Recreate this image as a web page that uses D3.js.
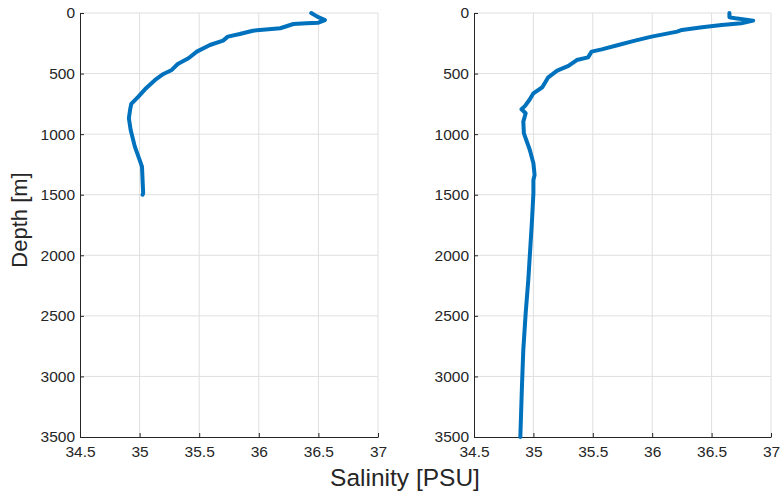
<!DOCTYPE html>
<html>
<head>
<meta charset="utf-8">
<script src="https://cdn.jsdelivr.net/npm/d3@7"></script>
<style>
  html, body { margin: 0; padding: 0; background: #fff; }
  svg { display: block; font-family: "Liberation Sans", Arial, Helvetica, sans-serif; }
</style>
</head>
<body>
<svg id="chart" width="781" height="498"></svg>
<script>
// Salinity profiles (PSU) against depth (m)
const depthA = [0, 30, 58, 80, 85, 91, 126, 146, 173, 195, 228, 264, 319, 374, 421, 470, 503, 553, 630, 690, 751, 800, 869, 966, 1103, 1213, 1268, 1380, 1488, 1500];
const salA   = [36.44, 36.49, 36.555, 36.50, 36.40, 36.29, 36.18, 35.95, 35.84, 35.74, 35.70, 35.59, 35.48, 35.41, 35.32, 35.27, 35.20, 35.13, 35.045, 34.99, 34.93, 34.92, 34.91, 34.925, 34.96, 35.00, 35.02, 35.025, 35.03, 35.025];

const depthB = [0, 36, 44, 63, 85, 99, 118, 140, 154, 168, 195, 228, 264, 300, 319, 366, 388, 437, 476, 531, 613, 663, 712, 767, 795, 828, 897, 993, 1131, 1240, 1337, 1378, 1488, 1680, 1763, 2203, 2478, 2781, 3100, 3500];
const salB   = [36.65, 36.65, 36.70, 36.85, 36.75, 36.585, 36.42, 36.25, 36.21, 36.135, 35.995, 35.855, 35.715, 35.575, 35.49, 35.46, 35.365, 35.295, 35.20, 35.125, 35.075, 35.0, 34.97, 34.93, 34.90, 34.935, 34.915, 34.92, 34.97, 35.0, 35.01, 35.0, 35.0, 34.99, 34.985, 34.957, 34.935, 34.915, 34.903, 34.89];

const salTicks = [34.5, 35, 35.5, 36, 36.5, 37];
const depthTicks = [0, 500, 1000, 1500, 2000, 2500, 3000, 3500];

const svg = d3.select("#chart");
const textColor = "#262626";
const lineColor = "#0072BD";
const gridColor = "#dfdfdf";

const plotTop = 13, plotBottom = 437;
const panels = [
  { left: 80, right: 378, depth: depthA, sal: salA },
  { left: 474, right: 771, depth: depthB, sal: salB }
];

const y = d3.scaleLinear().domain([0, 3500]).range([plotTop, plotBottom]);

panels.forEach(p => {
  const x = d3.scaleLinear().domain([34.5, 37]).range([p.left, p.right]);
  const g = svg.append("g");

  // grid
  g.append("g").selectAll("line").data(salTicks.slice(1)).join("line")
    .attr("x1", d => x(d)).attr("x2", d => x(d))
    .attr("y1", plotTop).attr("y2", plotBottom)
    .attr("stroke", gridColor).attr("stroke-width", 1);
  g.append("g").selectAll("line").data(depthTicks.slice(0, -1)).join("line")
    .attr("x1", p.left).attr("x2", p.right)
    .attr("y1", d => y(d)).attr("y2", d => y(d))
    .attr("stroke", gridColor).attr("stroke-width", 1);

  // axes with inward ticks
  const xAxis = g.append("g").attr("transform", `translate(0,${plotBottom})`)
    .call(d3.axisBottom(x).tickValues(salTicks).tickFormat(d3.format("")).tickSizeInner(-4).tickSizeOuter(0).tickPadding(9));
  const yAxis = g.append("g").attr("transform", `translate(${p.left},0)`)
    .call(d3.axisLeft(y).tickValues(depthTicks).tickFormat(d3.format("")).tickSizeInner(-4).tickSizeOuter(0).tickPadding(5));
  [xAxis, yAxis].forEach(a => {
    a.select(".domain").attr("stroke", textColor).attr("stroke-width", 1);
    a.selectAll(".tick line").attr("stroke", textColor);
    a.selectAll(".tick text").attr("fill", textColor).attr("font-size", 15.5)
      .attr("font-family", "Liberation Sans, Arial, sans-serif");
  });

  // profile
  const line = d3.line().x((d, i) => x(p.sal[i])).y(d => y(d)).curve(d3.curveLinear);
  g.append("path").datum(p.depth)
    .attr("d", line)
    .attr("fill", "none")
    .attr("stroke", lineColor)
    .attr("stroke-width", 4)
    .attr("stroke-linejoin", "round")
    .attr("stroke-linecap", "round");
});

// axis titles
svg.append("text")
  .attr("x", 405).attr("y", 486)
  .attr("text-anchor", "middle")
  .attr("font-size", 24.5)
  .attr("fill", textColor)
  .text("Salinity [PSU]");

svg.append("text")
  .attr("transform", "translate(27,220) rotate(-90)")
  .attr("text-anchor", "middle")
  .attr("font-size", 22)
  .attr("fill", textColor)
  .text("Depth [m]");
</script>
</body>
</html>
